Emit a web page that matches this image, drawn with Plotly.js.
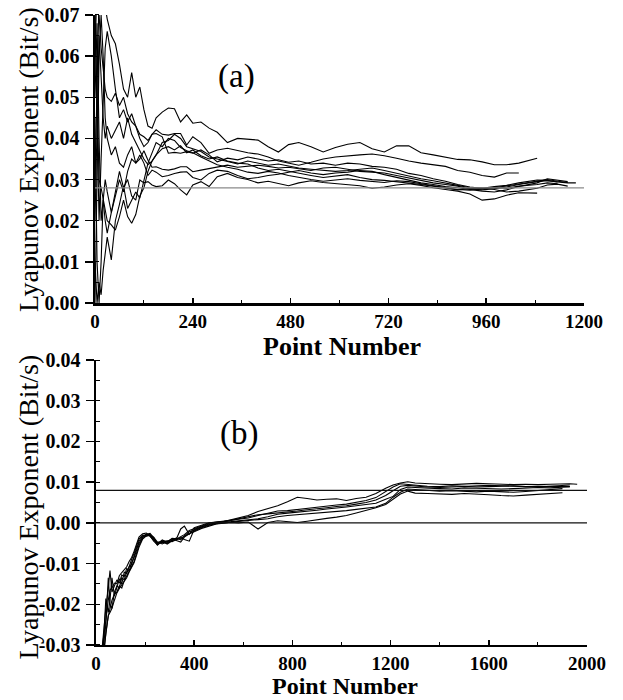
<!DOCTYPE html>
<html>
<head>
<meta charset="utf-8">
<script src="https://cdn.plot.ly/plotly-3.0.1.min.js"></script>
<style>html,body{margin:0;padding:0;background:#fff;}#chart{width:623px;height:700px;}</style>
</head>
<body>
<div id="chart"></div>
<script>
// ---------- Panel (a) ----------
const xA = [0,5,10,15,20,25,30,40,50,60,70,80,90,100,110,120,130,140,150,165,180,195,210,225,240,260,280,300,325,350,375,400,425,450,475,500,530,560,590,620,650,680,710,740,770,800,830,860,890,920,950,980,1010,1040,1085,1110,1135,1160,1180];
const curveA1 = [0.030,0.055,0.075,0.078,0.074,0.072,0.069,0.065,0.063,0.058,0.052,0.050,0.056,0.050,0.0525,0.047,0.043,0.0425,0.045,0.0464,0.0474,0.0472,0.044,0.0457,0.0437,0.044,0.0425,0.0415,0.039,0.040,0.0398,0.0396,0.038,0.0367,0.0385,0.039,0.038,0.0367,0.0378,0.0386,0.039,0.0375,0.0367,0.0382,0.0382,0.0365,0.036,0.0355,0.0349,0.0348,0.0343,0.0336,0.0336,0.034,0.0352,null,null,null,null];
const curveA2 = [0.060,0.078,0.070,0.062,0.057,0.052,0.050,0.049,0.051,0.048,0.050,0.046,0.044,0.043,0.041,0.0404,0.0395,0.041,0.0421,0.041,0.0408,0.0412,0.0412,0.0384,0.0404,0.039,0.0364,0.0372,0.0376,0.037,0.0365,0.0362,0.0355,0.0345,0.034,0.0335,0.0342,0.035,0.0355,0.0358,0.036,0.0362,0.0358,0.0352,0.0345,0.034,0.0336,0.0332,0.0322,0.0318,0.031,0.0306,0.0316,0.0316,null,null,null,null,null];
const curveA3 = [0.070,0.040,0.020,0.035,0.050,0.062,0.066,0.060,0.052,0.045,0.047,0.044,0.046,0.043,0.040,0.038,0.039,0.041,0.0412,0.0404,0.0364,0.0366,0.0364,0.0368,0.0364,0.0372,0.036,0.0343,0.0352,0.0348,0.0355,0.035,0.0345,0.0348,0.0342,0.0345,0.0338,0.034,0.0335,0.034,0.0338,0.0332,0.033,0.0325,0.0315,0.031,0.0302,0.0296,0.0288,0.0282,0.0279,0.0283,0.0286,0.0292,0.0299,0.0298,0.0294,0.0292,0.0292];
const curveA4 = [0.000,0.030,0.060,0.070,0.060,0.045,0.040,0.036,0.038,0.034,0.033,0.036,0.038,0.034,0.035,0.037,0.0347,0.033,0.0331,0.0325,0.0323,0.0326,0.0331,0.0331,0.0319,0.0323,0.0327,0.0331,0.0335,0.033,0.0332,0.0335,0.0332,0.0328,0.033,0.0326,0.0322,0.0328,0.033,0.0325,0.032,0.0318,0.0316,0.031,0.0304,0.0298,0.0292,0.0288,0.0284,0.0277,0.0275,0.0278,0.0282,0.0288,0.0295,0.0297,0.0294,null,null];
const curveA5 = [0.045,0.010,0.000,0.010,0.025,0.030,0.027,0.022,0.026,0.030,0.027,0.032,0.035,0.034,0.036,0.034,0.031,0.0323,0.0318,0.0307,0.031,0.0315,0.0318,0.0319,0.0305,0.0299,0.0315,0.0323,0.032,0.031,0.0302,0.0305,0.031,0.0313,0.0318,0.0322,0.0316,0.0312,0.0316,0.0318,0.0322,0.032,0.0312,0.0305,0.0298,0.0292,0.0288,0.0283,0.028,0.0276,0.0272,0.027,0.0275,0.0283,0.0292,0.0302,0.0298,0.0295,null];
const curveA6 = [0.050,0.068,0.040,0.020,0.025,0.020,0.017,0.022,0.027,0.032,0.028,0.030,0.026,0.025,0.0299,0.0292,0.0295,0.0287,0.0283,0.0285,0.0299,0.029,0.0275,0.0263,0.0287,0.0295,0.0283,0.0307,0.0315,0.0305,0.030,0.0292,0.0296,0.029,0.0285,0.0292,0.0297,0.0293,0.029,0.0288,0.0285,0.0279,0.0282,0.0287,0.029,0.0286,0.028,0.0276,0.0272,0.0265,0.025,0.0253,0.0262,0.0268,0.0267,null,null,null,null];
const curveA7 = [0.070,0.050,0.030,0.028,0.025,0.022,0.020,0.019,0.0177,0.021,0.025,0.021,0.0194,0.0215,0.026,0.028,0.032,0.0345,0.036,0.0375,0.038,0.0372,0.0382,0.0365,0.0372,0.0358,0.035,0.0355,0.0345,0.034,0.0338,0.0328,0.0322,0.0325,0.032,0.0315,0.031,0.0305,0.0308,0.0312,0.0305,0.030,0.0298,0.0295,0.0292,0.0288,0.0284,0.028,0.0276,0.0274,0.0278,0.0281,0.0279,0.0284,0.0288,0.0292,0.029,null,null];
const curveA8 = [0.010,0.000,0.005,0.002,0.008,0.012,0.016,0.0105,0.020,0.024,0.0285,0.023,0.025,0.027,0.0255,0.030,0.034,0.0365,0.039,0.038,0.040,0.0395,0.0378,0.037,0.0365,0.0355,0.0345,0.0336,0.033,0.0325,0.0318,0.0315,0.032,0.0316,0.031,0.0305,0.030,0.0296,0.0299,0.0302,0.0298,0.0295,0.0293,0.0297,0.0295,0.029,0.0285,0.0279,0.0275,0.0278,0.028,0.0276,0.027,0.0272,0.0279,0.0287,0.0289,0.0284,null];
const curveA9 = [0.020,0.045,0.065,0.055,0.045,0.040,0.043,0.040,0.042,0.044,0.040,0.045,0.041,0.039,0.037,0.035,0.0336,0.0345,0.036,0.039,0.0395,0.041,0.040,0.038,0.0375,0.0368,0.0355,0.035,0.0343,0.0338,0.0345,0.034,0.0335,0.0338,0.0333,0.0328,0.0325,0.0322,0.032,0.0322,0.0325,0.0328,0.0322,0.0315,0.0308,0.0302,0.0297,0.0292,0.0286,0.028,0.0278,0.028,0.0285,0.029,0.0297,0.030,0.0296,0.0293,null];
const refLevelA = 0.028;
const xRangeA = [0, 1200];
const yRangeA = [0, 0.07];
const xTicksA = [0, 240, 480, 720, 960, 1200];
const yTicksA = [0, 0.01, 0.02, 0.03, 0.04, 0.05, 0.06, 0.07];
const yTickTextA = ['0.00','0.01','0.02','0.03','0.04','0.05','0.06','0.07'];

// ---------- Panel (b) ----------
const xB = [20,30,40,50,57,65,75,85,95,105,115,125,135,145,155,165,175,190,205,220,235,250,270,290,310,330,345,360,380,400,430,460,490,520,550,580,620,660,700,740,780,820,860,900,940,980,1020,1060,1100,1140,1180,1210,1240,1270,1300,1350,1400,1450,1500,1550,1600,1650,1700,1750,1800,1850,1900,1930,1960];
const curveB1 = [-0.034,-0.027,-0.021,-0.016,-0.0117,-0.017,-0.0155,-0.014,-0.0148,-0.0128,-0.0132,-0.0112,-0.0118,-0.0098,-0.0085,-0.0068,-0.0045,-0.0032,-0.0028,-0.0026,-0.0036,-0.0052,-0.0042,-0.0048,-0.0043,-0.0038,-0.0042,-0.0032,-0.0022,-0.0018,-0.001,-0.0004,0.0001,0.0003,0.0008,0.0012,0.0018,0.0028,0.0035,0.0042,0.0052,0.0063,0.006,0.0056,0.0058,0.0059,0.0055,0.006,0.0063,0.0072,0.0085,0.0093,0.0098,0.0101,0.0098,0.0096,0.0095,0.0094,0.0095,0.0097,0.0096,0.0095,0.0094,0.0095,0.0094,0.0095,0.0096,0.0096,0.0095];
const curveB2 = [-0.038,-0.030,-0.0186,-0.022,-0.019,-0.0135,-0.018,-0.016,-0.0137,-0.015,-0.0121,-0.0125,-0.0105,-0.009,-0.0075,-0.0058,-0.004,-0.003,-0.0033,-0.003,-0.004,-0.0055,-0.0045,-0.0052,-0.0045,-0.0036,-0.0015,-0.0008,-0.0028,-0.0012,-0.0006,0.0,0.0002,0.0004,0.0007,0.0008,0.0012,0.0018,0.0024,0.0029,0.003,0.0033,0.0036,0.0039,0.0041,0.0044,0.0046,0.005,0.0055,0.0062,0.0076,0.0088,0.0096,0.0094,0.0092,0.009,0.0089,0.0091,0.009,0.0088,0.0089,0.009,0.0091,0.0089,0.0088,0.009,0.0092,0.0093,null];
const curveB3 = [-0.036,-0.031,-0.025,-0.0135,-0.020,-0.021,-0.017,-0.0155,-0.016,-0.0135,-0.014,-0.012,-0.0108,-0.0102,-0.0082,-0.0062,-0.005,-0.0035,-0.0029,-0.0033,-0.0042,-0.0048,-0.0046,-0.0044,-0.0046,-0.004,-0.0036,-0.0041,-0.0045,-0.0016,-0.0009,-0.0003,-0.0001,0.0002,0.0003,0.0005,0.0007,0.001,0.0015,0.0021,0.0024,0.0026,0.0029,0.0031,0.0034,0.0036,0.0039,0.0042,0.0045,0.0048,0.0058,0.0065,0.0082,0.0088,0.0087,0.0085,0.0084,0.0083,0.0086,0.0085,0.0084,0.0083,0.0084,0.0086,0.0087,0.0086,0.0088,0.0089,null];
const curveB4 = [-0.040,-0.033,-0.027,-0.023,-0.021,-0.019,-0.0175,-0.017,-0.0155,-0.016,-0.0142,-0.013,-0.0115,-0.0105,-0.0095,-0.0075,-0.0055,-0.0037,-0.003,-0.0028,-0.0038,-0.005,-0.0048,-0.005,-0.0042,-0.0041,-0.0038,-0.0033,-0.0025,-0.002,-0.0012,-0.0006,-0.0002,0.0,0.0002,0.0003,0.0005,0.0008,0.001,0.0015,0.0018,0.002,0.0022,0.0023,0.0026,0.0028,0.003,0.0033,0.0036,0.0039,0.0048,0.0063,0.0075,0.0083,0.0082,0.008,0.0078,0.0079,0.0077,0.0076,0.0078,0.0077,0.0075,0.0077,0.0079,0.0082,0.0084,null,null];
const curveB5 = [-0.037,-0.032,-0.028,-0.0227,-0.022,-0.021,-0.019,-0.0172,-0.0161,-0.0153,-0.0145,-0.0135,-0.0121,-0.011,-0.0098,-0.008,-0.006,-0.004,-0.0032,-0.003,-0.0035,-0.0047,-0.0052,-0.0046,-0.004,-0.0044,-0.0047,-0.0035,-0.0027,-0.0022,-0.0014,-0.0008,-0.0003,-0.0001,0.0001,0.0,0.0002,-0.0015,0.0001,0.0005,0.0003,0.0001,0.0004,0.0008,0.0011,0.0014,0.0018,0.0024,0.003,0.0037,0.0045,0.0059,0.0071,0.0078,0.0073,0.0072,0.0071,0.007,0.0072,0.0071,0.0069,0.0067,0.0066,0.0068,0.007,0.0072,0.0074,null,null];
const curveB6 = [-0.033,-0.029,-0.024,-0.019,-0.0165,-0.016,-0.0148,-0.015,-0.013,-0.0122,-0.0115,-0.0108,-0.0095,-0.0085,-0.007,-0.005,-0.0035,-0.0027,-0.0025,-0.0032,-0.0045,-0.0054,-0.0044,-0.0047,-0.0038,-0.0039,-0.0034,-0.0029,-0.0019,-0.0014,-0.0007,-0.0001,0.0002,0.0003,0.0006,0.001,0.0015,0.002,0.0022,0.0024,0.0027,0.0029,0.0032,0.0034,0.0037,0.004,0.0042,0.0046,0.005,0.0056,0.0067,0.0079,0.009,0.0092,0.009,0.0088,0.0087,0.0088,0.0089,0.009,0.0092,0.0091,0.009,0.0089,0.009,0.0089,0.0088,0.0089,null];
const refLevelsB = [0.008, 0.0];
const xRangeB = [0, 2000];
const yRangeB = [-0.03, 0.04];
const xTicksB = [0, 400, 800, 1200, 1600, 2000];
const yTicksB = [-0.03, -0.02, -0.01, 0, 0.01, 0.02, 0.03, 0.04];
const yTickTextB = ['-0.03','-0.02','-0.01','0.00','0.01','0.02','0.03','0.04'];

// ---------- Texts ----------
const yTitle = 'Lyapunov Exponent (Bit/s)';
const xTitle = 'Point Number';
const panelLabels = ['(a)', '(b)'];

// ---------- Build ----------
const serif = 'Liberation Serif, Times New Roman, serif';
const traces = [];
[curveA1,curveA2,curveA3,curveA4,curveA5,curveA6,curveA7,curveA8,curveA9].forEach(function(c){
  traces.push({x: xA, y: c, xaxis:'x', yaxis:'y', type:'scatter', mode:'lines',
    line:{color:'#000', width:1.1}, connectgaps:false, hoverinfo:'skip'});
});
traces.push({x: xRangeA, y: [refLevelA, refLevelA], xaxis:'x', yaxis:'y', type:'scatter', mode:'lines',
  line:{color:'#8a8a8a', width:1.2}, hoverinfo:'skip'});
[curveB1,curveB2,curveB3,curveB4,curveB5,curveB6].forEach(function(c){
  traces.push({x: xB, y: c, xaxis:'x2', yaxis:'y2', type:'scatter', mode:'lines',
    line:{color:'#000', width:1.1}, connectgaps:false, hoverinfo:'skip'});
});
refLevelsB.forEach(function(v){
  traces.push({x: xRangeB, y: [v, v], xaxis:'x2', yaxis:'y2', type:'scatter', mode:'lines',
    line:{color:'#111', width:1.2}, hoverinfo:'skip'});
});

const tickFontY = {family: serif, size: 20, color:'#000', weight:'bold'};
const tickFontX = {family: serif, size: 19, color:'#000', weight:'bold'};
function xAxis(domain, range, ticks, anchor, minorStep){
  return {domain: domain, range: range, anchor: anchor, tickmode:'array', tickvals: ticks,
    ticks:'inside', ticklen:5, tickwidth:1.5, tickcolor:'#000',
    showline:true, linewidth:2.5, linecolor:'#000', showgrid:false, zeroline:false,
    tickfont: tickFontX,
    minor:{tickmode:'linear', tick0:0, dtick:minorStep, ticks:'inside', ticklen:3, tickwidth:1, tickcolor:'#000', showgrid:false}};
}
function yAxis(domain, range, ticks, text, anchor){
  return {domain: domain, range: range, anchor: anchor, tickmode:'array', tickvals: ticks, ticktext: text,
    ticks:'outside', ticklen:8, tickwidth:1.5, tickcolor:'#000',
    showline:true, linewidth:2.5, linecolor:'#000', showgrid:false, zeroline:false,
    tickfont: tickFontY, ticklabelstandoff: 1,
    minor:{tickmode:'linear', tick0:0, dtick:0.005, ticks:'inside', ticklen:4, tickwidth:1, tickcolor:'#000', showgrid:false}};
}

const layout = {
  width: 623, height: 700,
  margin: {l:0, r:0, t:0, b:0},
  paper_bgcolor:'#fff', plot_bgcolor:'#fff',
  showlegend:false,
  font:{family: serif, color:'#000'},
  xaxis: xAxis([0.1525, 0.9374], xRangeA, xTicksA, 'y', 120),
  yaxis: yAxis([0.5671, 0.9786], yRangeA, yTicksA, yTickTextA, 'x'),
  xaxis2: xAxis([0.1541, 0.9422], xRangeB, xTicksB, 'y2', 200),
  yaxis2: yAxis([0.0786, 0.4857], yRangeB, yTicksB, yTickTextB, 'x2'),
  annotations: [
    {xref:'paper', yref:'paper', x:0.045, y:0.7714, text:yTitle, textangle:-90, showarrow:false,
     xanchor:'center', yanchor:'middle', font:{family:serif, size:28, color:'#000'}},
    {xref:'paper', yref:'paper', x:0.045, y:0.2750, text:yTitle, textangle:-90, showarrow:false,
     xanchor:'center', yanchor:'middle', font:{family:serif, size:28, color:'#000'}},
    {xref:'paper', yref:'paper', x:0.549, y:0.505, text:xTitle, showarrow:false,
     xanchor:'center', yanchor:'middle', font:{family:serif, size:26, color:'#000', weight:'bold'}},
    {xref:'paper', yref:'paper', x:0.554, y:0.0, text:xTitle, showarrow:false,
     xanchor:'center', yanchor:'bottom', borderpad:0, font:{family:serif, size:24, color:'#000', weight:'bold'}},
    {xref:'paper', yref:'paper', x:0.3804, y:0.89, text:panelLabels[0], showarrow:false,
     xanchor:'center', yanchor:'middle', font:{family:serif, size:33, color:'#000'}},
    {xref:'paper', yref:'paper', x:0.3836, y:0.3814, text:panelLabels[1], showarrow:false,
     xanchor:'center', yanchor:'middle', font:{family:serif, size:33, color:'#000'}}
  ]
};

Plotly.newPlot('chart', traces, layout, {staticPlot:true, displayModeBar:false});
</script>
</body>
</html>
